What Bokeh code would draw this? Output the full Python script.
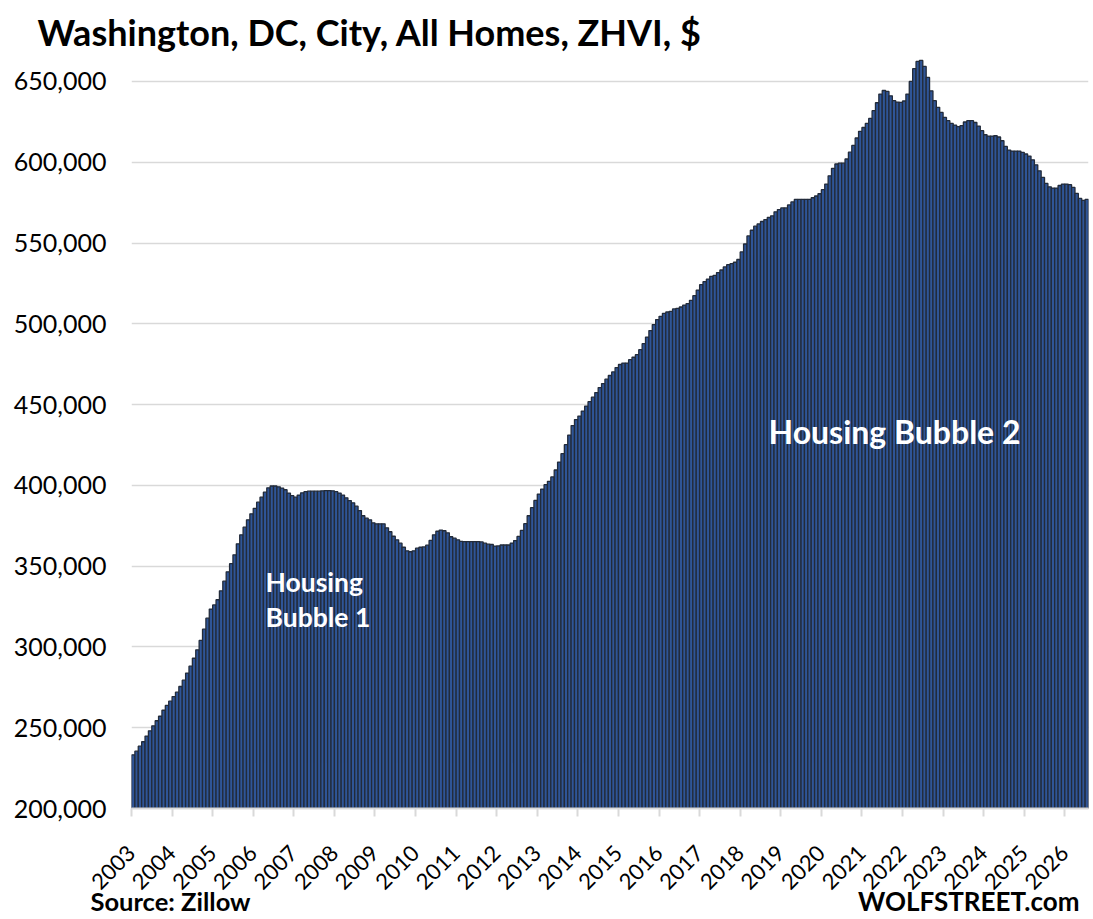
import math
from bokeh.plotting import figure
from bokeh.layouts import column
from bokeh.models import Range1d, FixedTicker, NumeralTickFormatter, Label, ColumnDataSource
from bokeh.embed import file_html
from bokeh.resources import INLINE

# ---------------- data ----------------
year_labels = [str(y) for y in range(2003, 2027)]
y_ticks = [200000, 250000, 300000, 350000, 400000, 450000, 500000, 550000, 600000, 650000]

# Monthly ZHVI values (thousand $), Jan 2003 .. Jul 2026
zhvi_2003_2008 = [
    233.2, 235.5, 238.6, 241.3, 244.8, 248.1, 251.2, 254.3, 257.1, 260.8, 263.8, 266.4,
    269.3, 272.0, 275.5, 279.4, 283.8, 288.1, 293.0, 298.2, 304.0, 311.0, 317.8, 323.4,
    326.0, 329.2, 334.7, 340.7, 346.5, 351.5, 357.0, 363.8, 369.4, 374.1, 378.7, 382.4,
    385.8, 389.6, 392.7, 395.8, 398.5, 399.6, 399.6, 399.1, 398.3, 397.3, 395.2, 393.6,
    392.7, 394.0, 395.4, 396.1, 396.4, 396.4, 396.4, 396.4, 396.6, 396.8, 396.8, 396.6,
    396.1, 395.2, 394.0, 392.3, 390.6, 389.2, 387.1, 384.4, 381.2, 379.7, 378.7, 376.8,
]
zhvi_2009_2014 = [
    376.2, 376.2, 376.2, 373.7, 371.3, 368.5, 366.3, 364.2, 361.7, 359.5, 358.9, 359.5,
    361.1, 361.7, 361.9, 363.0, 365.9, 369.4, 371.6, 372.3, 371.9, 370.6, 368.2, 367.3,
    366.3, 365.3, 365.2, 365.2, 365.2, 365.2, 365.2, 365.0, 364.2, 363.6, 363.4, 362.4,
    362.5, 363.1, 363.1, 363.1, 364.3, 365.8, 368.4, 372.1, 376.3, 381.2, 386.2, 390.7,
    394.6, 397.7, 400.4, 402.5, 405.2, 409.5, 414.4, 419.6, 425.2, 431.1, 437.0, 440.7,
    442.9, 446.0, 449.1, 451.8, 454.6, 457.4, 460.5, 463.0, 465.7, 468.0, 470.2, 472.9,
]
zhvi_2015_2020 = [
    474.8, 475.7, 475.7, 477.8, 479.3, 480.9, 484.0, 487.7, 491.8, 495.8, 499.5, 502.6,
    504.6, 506.5, 507.3, 507.7, 509.2, 509.6, 510.4, 511.6, 512.5, 514.5, 517.4, 520.9,
    524.2, 526.1, 527.7, 529.4, 530.0, 531.7, 533.3, 535.2, 536.6, 537.2, 538.1, 539.8,
    544.5, 549.4, 554.4, 557.9, 560.4, 561.8, 563.3, 564.5, 565.8, 566.8, 569.3, 570.7,
    571.7, 571.7, 573.6, 575.4, 577.0, 577.0, 577.0, 577.0, 577.0, 578.0, 579.1, 580.5,
    583.0, 586.5, 591.6, 596.2, 598.9, 599.4, 599.4, 602.0, 606.2, 610.4, 615.0, 619.1,
]
zhvi_2021_2026 = [
    621.5, 624.0, 627.1, 631.9, 636.8, 642.2, 644.4, 643.8, 641.1, 638.1, 637.2, 637.0,
    637.9, 642.2, 650.0, 657.9, 662.4, 663.0, 659.3, 652.5, 644.2, 638.1, 634.0, 630.8,
    627.7, 625.7, 624.0, 623.0, 622.0, 622.6, 624.9, 625.7, 625.7, 624.6, 622.4, 619.5,
    617.0, 616.2, 616.2, 616.4, 615.6, 613.3, 609.8, 607.5, 606.9, 606.9, 606.9, 606.1,
    605.1, 603.8, 601.5, 598.4, 594.7, 590.6, 586.9, 584.8, 584.0, 584.0, 585.6, 586.5,
    586.5, 586.1, 584.4, 580.7, 577.6, 576.4, 577.0,
]

zhvi = [v * 1000 for v in zhvi_2003_2008 + zhvi_2009_2014 + zhvi_2015_2020 + zhvi_2021_2026]
n = len(zhvi)
source = ColumnDataSource(dict(x=[i + 0.5 for i in range(n)], top=zhvi))

FONT = "Lato"
W = 1090


def blank_fig(h, transparent=False):
    f = figure(width=W, height=h, output_backend="svg", toolbar_location=None,
               x_axis_type=None, y_axis_type=None, x_range=Range1d(0, 1), y_range=Range1d(0, 1),
               min_border=0, frame_align=False)
    f.grid.visible = False
    f.outline_line_color = None
    if transparent:
        f.background_fill_color = None
        f.border_fill_color = None
    else:
        f.background_fill_color = "white"
        f.border_fill_color = "white"
    return f


def add_text(fig, txt, x, y, size, color="black", align="left", bold=True):
    fig.add_layout(Label(x=x, y=y, x_units="screen", y_units="screen", text=txt,
                         text_font=FONT, text_font_style="bold" if bold else "normal",
                         text_font_size=size, text_color=color, text_align=align,
                         text_baseline="alphabetic"))


# ---------------- header (title) ----------------
header = blank_fig(58)
add_text(header, "Washington, DC, City, All Homes, ZHVI, $", 37, 27, "36px")

# ---------------- main chart ----------------
p = figure(width=W, height=861, output_backend="svg", toolbar_location=None,
           x_range=Range1d(0, n), y_range=Range1d(200000, 664200),
           min_border_left=131, min_border_right=2, min_border_top=0, min_border_bottom=111,
           frame_align=False)
p.outline_line_color = None
p.background_fill_color = "white"
p.border_fill_color = "white"

p.vbar(x="x", top="top", bottom=200000, width=1.0, source=source,
       fill_color="#2F5597", line_color="#222B3A", line_width=1.3)

p.xgrid.visible = False
p.ygrid.ticker = FixedTicker(ticks=y_ticks)
p.ygrid.grid_line_color = "#D9D9D9"
p.ygrid.grid_line_width = 1.6

ya = p.yaxis[0]
ya.ticker = FixedTicker(ticks=y_ticks)
ya.formatter = NumeralTickFormatter(format="0,0")
ya.axis_line_color = None
ya.major_tick_line_color = None
ya.major_tick_out = 0
ya.major_tick_in = 0
ya.minor_tick_line_color = None
ya.major_label_text_font = FONT
ya.major_label_text_font_size = "25px"
ya.major_label_text_color = "black"
ya.major_label_standoff = 25

xa = p.xaxis[0]
xt = [12 * k for k in range(len(year_labels))]
xa.ticker = FixedTicker(ticks=xt)
xa.major_label_overrides = {t: lab for t, lab in zip(xt, year_labels)}
xa.major_label_orientation = math.pi / 4
xa.axis_line_color = "#D9D9D9"
xa.axis_line_width = 2
xa.major_tick_line_color = "#D9D9D9"
xa.major_tick_line_width = 2
xa.major_tick_out = 8
xa.major_tick_in = 0
xa.minor_tick_line_color = None
xa.major_label_text_font = FONT
xa.major_label_text_font_size = "22px"
xa.major_label_text_color = "black"
xa.major_label_standoff = 33

add_text(p, "Housing", 134, 227, "26.5px", color="white")
add_text(p, "Bubble 1", 134, 192, "26.5px", color="white")
add_text(p, "Housing Bubble 2", 637, 377, "32px", color="white")

# ---------------- footer (overlaps the bottom margin of the chart) ----------------
footer = blank_fig(44, transparent=True)
footer.margin = (-44, 0, 0, 0)
add_text(footer, "Source: Zillow", 90, 19, "25.5px")
add_text(footer, "WOLFSTREET.com", 1079, 19, "26px", align="right")

layout = column(header, p, footer, spacing=0)
open("out.html", "w").write(file_html(layout, INLINE))
